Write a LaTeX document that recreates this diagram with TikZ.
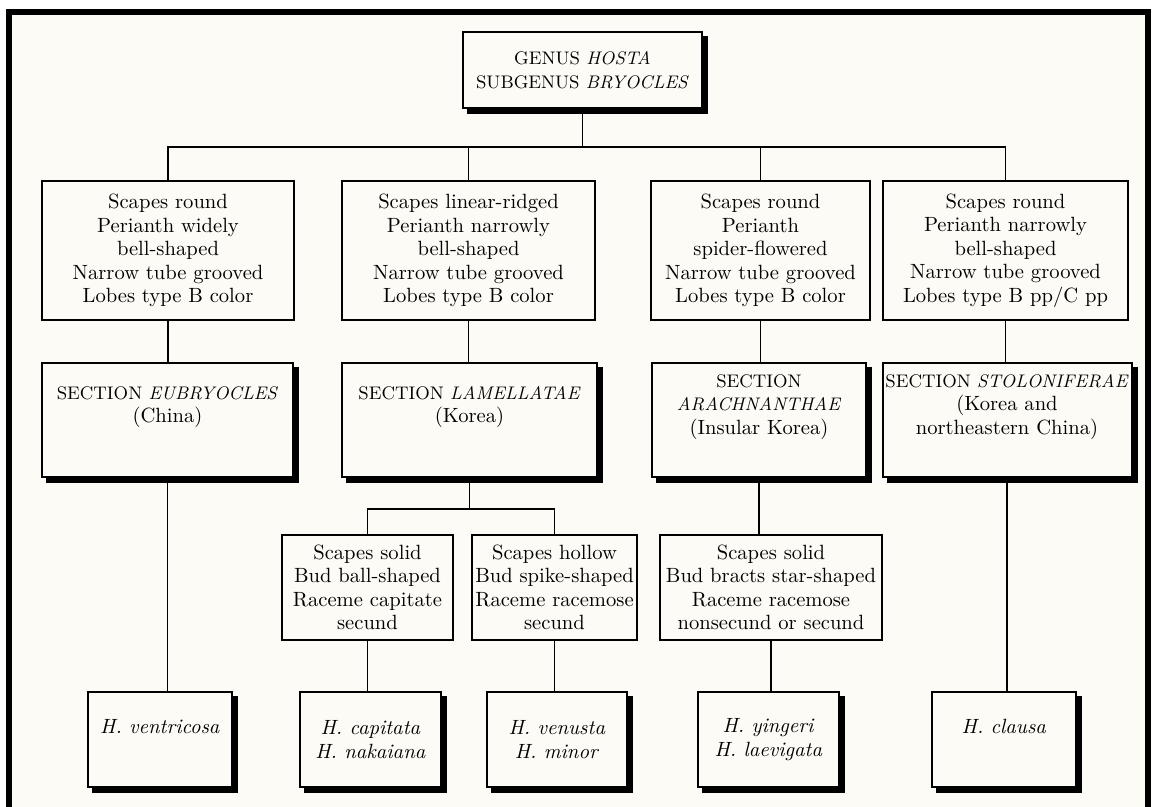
\documentclass[tikz,border=0pt]{standalone}
\usepackage{tikz}
\usetikzlibrary{shadows}
\definecolor{paper}{RGB}{252,251,246}
\newcommand{\cellbox}[4]{\parbox[c][#2][c]{#1}{\centering #4\par\vspace*{#3}}}
\newcommand{\capline}[1]{{\fontsize{9.1}{11.75}\selectfont #1}}

\begin{document}
\begin{tikzpicture}[x=0.5pt,y=-0.5pt,
    keybox/.style={draw,line width=1pt,fill=paper,inner sep=0pt,font=\fontsize{10.3}{11.75}\selectfont},
    taxbox/.style={keybox,general shadow={fill=black,draw=black,shadow xshift=2.5pt,shadow yshift=-2.5pt}},
    link/.style={line width=0.9pt}]
            \useasboundingbox (0,0) rectangle (1157,807);
            \fill[white] (0,0) rectangle (1157,807);
            \fill[paper] (9,12) rectangle (1148,807);
            \draw[line width=3pt] (9,807) -- (9,12) -- (1148,12) -- (1148,807);
            \node[taxbox] (genus) at (582.5,70) {\cellbox{119.5pt}{38pt}{0pt}{\capline{GENUS \textit{HOSTA}}\\\capline{SUBGENUS \textit{BRYOCLES}}}};
            \node[keybox] (c1) at (168,250.5) {\cellbox{126pt}{69.5pt}{0pt}{Scapes round\\Perianth widely\\bell-shaped\\Narrow tube grooved\\Lobes type B color}};
            \node[keybox] (c2) at (468.5,250.5) {\cellbox{126.5pt}{69.5pt}{0pt}{Scapes linear-ridged\\Perianth narrowly\\bell-shaped\\Narrow tube grooved\\Lobes type B color}};
            \node[keybox] (c3) at (760.5,250.5) {\cellbox{109.5pt}{69.5pt}{0pt}{Scapes round\\Perianth\\spider-flowered\\Narrow tube grooved\\Lobes type B color}};
            \node[keybox] (c4) at (1005.5,250.5) {\cellbox{122.5pt}{69.5pt}{0pt}{Scapes round\\Perianth narrowly\\bell-shaped\\Narrow tube grooved\\Lobes type B pp/C pp}};
            \node[taxbox] (s1) at (167.5,420) {\cellbox{125.5pt}{57pt}{13pt}{\capline{SECTION \textit{EUBRYOCLES}}\\(China)}};
            \node[taxbox] (s2) at (469.5,420) {\cellbox{127.5pt}{57pt}{13pt}{\capline{SECTION \textit{LAMELLATAE}}\\(Korea)}};
            \node[taxbox] (s3) at (759,420) {\cellbox{107pt}{57pt}{13pt}{\capline{SECTION}\\\capline{\textit{ARACHNANTHAE}}\\(Insular Korea)}};
            \node[taxbox] (s4) at (1007,420) {\cellbox{124.5pt}{57pt}{13pt}{\capline{SECTION \textit{STOLONIFERAE}}\\(Korea and\\northeastern China)}};
            \node[keybox] (b1) at (367.5,587.5) {\cellbox{85.5pt}{52.5pt}{0pt}{Scapes solid\\Bud ball-shaped\\Raceme capitate\\secund}};
            \node[keybox] (b2) at (554.5,587.5) {\cellbox{82.5pt}{52.5pt}{0pt}{Scapes hollow\\Bud spike-shaped\\Raceme racemose\\secund}};
            \node[keybox] (b3) at (771,587.5) {\cellbox{111pt}{52.5pt}{0pt}{Scapes solid\\Bud bracts star-shaped\\Raceme racemose\\nonsecund or secund}};
            \node[taxbox] (h1) at (160,739.5) {\cellbox{72pt}{47.5pt}{13pt}{\textit{H. ventricosa}}};
            \node[taxbox] (h2) at (370.5,739.5) {\cellbox{70.5pt}{47.5pt}{0pt}{\textit{H. capitata}\\\textit{H. nakaiana}}};
            \node[taxbox] (h3) at (557,739.5) {\cellbox{70pt}{47.5pt}{0pt}{\textit{H. venusta}\\\textit{H. minor}}};
            \node[taxbox] (h4) at (768.5,739.5) {\cellbox{70.5pt}{47.5pt}{0pt}{\textit{H. yingeri}\\\textit{H. laevigata}}};
            \node[taxbox] (h5) at (1004,739.5) {\cellbox{72pt}{47.5pt}{13pt}{\textit{H. clausa}}};
            \coordinate (bus) at (585,147);
            \coordinate (subbus) at (469.5,509);
            \draw[link] (genus.south) -- (genus.south |- bus);
            \draw[link] (c1.north) |- (bus) -| (c4.north);
            \draw[link] (c2.north) -- (c2.north |- bus);
            \draw[link] (c3.north) -- (c3.north |- bus);
            \foreach \a/\b in {c1/s1,c2/s2,c3/s3,c4/s4,s3/b3,s1/h1,b1/h2,b2/h3,b3/h4,s4/h5}
                \draw[link] (\a.south) -- (\a.south |- \b.north);
            \draw[link] (s2.south) -- (s2.south |- subbus);
            \draw[link] (b1.north) |- (subbus) -| (b2.north);
        \end{tikzpicture}
\end{document}
